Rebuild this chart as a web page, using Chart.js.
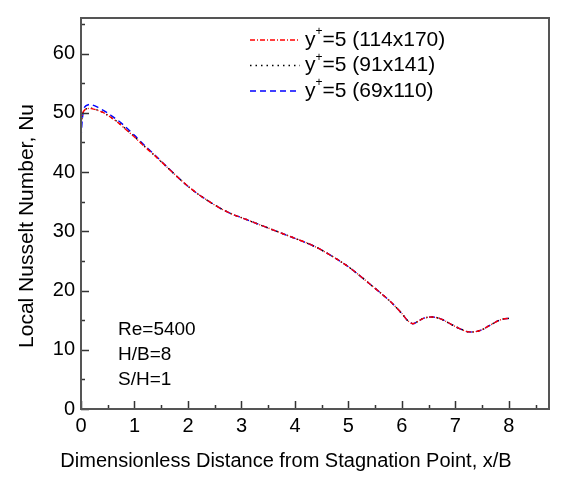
<!DOCTYPE html>
<html lang="en">
  <head>
    <meta charset="UTF-8" />
    <title>Local Nusselt Number</title>
    <script src="https://cdn.jsdelivr.net/npm/chart.js"></script>
    <style>
      body { margin: 0; background: #fff; }
      #box { width: 572px; height: 489px; }
    </style>
  </head>
  <body>
    <div id="box"><canvas id="myCanvas" width="572" height="489"></canvas></div>
    <script>
      // posicoes x/B (comum as tres malhas)
      const xB = [0, 0.03, 0.07, 0.15, 0.2, 0.3, 0.4, 0.5, 0.6, 0.7, 0.8, 0.9, 1.0,
        1.2, 1.4, 1.6, 1.8, 2.0, 2.2, 2.4, 2.6, 2.8, 3.0, 3.2, 3.4, 3.6, 3.8, 4.0,
        4.2, 4.4, 4.6, 4.8, 5.0, 5.2, 5.4, 5.6, 5.8, 6.0, 6.1, 6.2, 6.3, 6.4, 6.5,
        6.6, 6.7, 6.8, 6.9, 7.0, 7.1, 7.2, 7.3, 7.4, 7.5, 7.6, 7.7, 7.8, 7.9, 8.0];

      // Nu local - malha 114x170
      const nu114 = [48.3, 49.9, 50.5, 50.75, 50.7, 50.45, 50.1, 49.6, 48.95, 48.3, 47.5, 46.7, 45.9,
        44.2, 42.6, 40.9, 39.2, 37.6, 36.2, 35.0, 33.9, 33.0, 32.3, 31.6, 30.9, 30.2, 29.5, 28.8,
        28.1, 27.3, 26.3, 25.2, 24.0, 22.6, 21.1, 19.6, 18.0, 16.1, 15.0, 14.4, 14.8, 15.3, 15.5,
        15.5, 15.3, 14.9, 14.4, 13.9, 13.5, 13.1, 13.0, 13.1, 13.4, 13.9, 14.4, 14.9, 15.2, 15.3];

      // Nu local - malha 91x141
      const nu91 = [48.0, 49.7, 50.5, 50.8, 50.75, 50.5, 50.1, 49.6, 49.0, 48.35, 47.55, 46.75, 45.95,
        44.25, 42.6, 40.9, 39.2, 37.6, 36.2, 35.0, 33.9, 33.0, 32.3, 31.6, 30.9, 30.2, 29.5, 28.8,
        28.1, 27.3, 26.3, 25.2, 24.0, 22.6, 21.1, 19.6, 18.0, 16.1, 15.0, 14.4, 14.8, 15.3, 15.5,
        15.5, 15.3, 14.9, 14.4, 13.9, 13.5, 13.1, 13.0, 13.1, 13.4, 13.9, 14.4, 14.9, 15.2, 15.3];

      // Nu local - malha 69x110
      const nu69 = [45.8, 49.3, 51.0, 51.4, 51.35, 51.0, 50.5, 49.95, 49.3, 48.65, 47.9, 47.05, 46.2,
        44.4, 42.7, 40.95, 39.2, 37.6, 36.2, 35.0, 33.9, 33.0, 32.3, 31.6, 30.9, 30.2, 29.5, 28.8,
        28.1, 27.3, 26.3, 25.2, 24.0, 22.6, 21.1, 19.6, 18.0, 16.1, 15.0, 14.4, 14.8, 15.3, 15.5,
        15.5, 15.3, 14.9, 14.4, 13.9, 13.5, 13.1, 13.0, 13.1, 13.4, 13.9, 14.4, 14.9, 15.2, 15.3];

      const nomesSeries = ["y+=5 (114x170)", "y+=5 (91x141)", "y+=5 (69x110)"];
      const xTicks = [0, 1, 2, 3, 4, 5, 6, 7, 8];
      const xMinor = [0.5, 1.5, 2.5, 3.5, 4.5, 5.5, 6.5, 7.5, 8.5];
      const yTicks = [0, 10, 20, 30, 40, 50, 60];
      const yMinor = [5, 15, 25, 35, 45, 55, 65];
      const anotacoes = ["Re=5400", "H/B=8", "S/H=1"];
      const tituloX = "Dimensionless Distance from Stagnation Point, x/B";
      const tituloY = "Local Nusselt Number, Nu";

      const fonte = "'Liberation Sans', Arial, sans-serif";

      function pontos(ys) {
        return xB.map((x, i) => ({ x: x, y: ys[i] }));
      }

      // desenha moldura, ticks para dentro, legenda, anotacoes e titulos
      const moldura = {
        id: "moldura",
        afterDatasetsDraw(chart) {
          const ctx = chart.ctx;
          const a = chart.chartArea;
          const sx = chart.scales.x;
          const sy = chart.scales.y;
          ctx.save();

          ctx.strokeStyle = "#333";
          ctx.lineWidth = 1.5;
          ctx.beginPath();
          xTicks.forEach((v) => {
            const p = Math.round(sx.getPixelForValue(v)) + 0.5;
            ctx.moveTo(p, a.bottom); ctx.lineTo(p, a.bottom - 8);
          });
          xMinor.forEach((v) => {
            const p = Math.round(sx.getPixelForValue(v)) + 0.5;
            ctx.moveTo(p, a.bottom); ctx.lineTo(p, a.bottom - 4);
          });
          yTicks.forEach((v) => {
            const p = Math.round(sy.getPixelForValue(v)) + 0.5;
            ctx.moveTo(a.left, p); ctx.lineTo(a.left + 8, p);
          });
          yMinor.forEach((v) => {
            const p = Math.round(sy.getPixelForValue(v)) + 0.5;
            ctx.moveTo(a.left, p); ctx.lineTo(a.left + 4, p);
          });
          ctx.stroke();

          ctx.strokeStyle = "#555";
          ctx.lineWidth = 2;
          ctx.strokeRect(a.left, a.top, a.right - a.left, a.bottom - a.top);

          // legenda
          ctx.fillStyle = "#000";
          ctx.textBaseline = "middle";
          chart.data.datasets.forEach((ds, i) => {
            const yy = 40 + i * 25.5;
            ctx.strokeStyle = ds.borderColor;
            ctx.lineWidth = 1.3;
            ctx.setLineDash(ds.borderDash);
            ctx.beginPath();
            ctx.moveTo(250, yy);
            ctx.lineTo(300, yy);
            ctx.stroke();
            ctx.setLineDash([]);

            const partes = ds.label.split("+");
            let xx = 305;
            ctx.font = "21px " + fonte;
            ctx.fillText(partes[0], xx, yy);
            xx += ctx.measureText(partes[0]).width;
            ctx.font = "12px " + fonte;
            ctx.fillText("+", xx, yy - 8);
            xx += ctx.measureText("+").width;
            ctx.font = "21px " + fonte;
            ctx.fillText(partes[1], xx, yy);
          });

          // anotacoes
          ctx.font = "19px " + fonte;
          anotacoes.forEach((t, i) => {
            ctx.fillText(t, 118, 330 + i * 25);
          });

          // titulo do eixo x, centrado na figura
          ctx.font = "20px " + fonte;
          ctx.textAlign = "center";
          ctx.fillText(tituloX, chart.width / 2, 461);

          // titulo do eixo y
          ctx.font = "21px " + fonte;
          ctx.translate(27, 226);
          ctx.rotate(-Math.PI / 2);
          ctx.fillText(tituloY, 0, 0);
          ctx.restore();
        },
      };

      const config = {
        type: "line",
        data: {
          datasets: [
            {
              label: nomesSeries[0],
              data: pontos(nu114),
              borderColor: "#ff0000",
              borderWidth: 1.4,
              borderDash: [5, 2, 1, 2],
              pointRadius: 0,
              tension: 0.3,
            },
            {
              label: nomesSeries[1],
              data: pontos(nu91),
              borderColor: "#000000",
              borderWidth: 1.4,
              borderDash: [1.5, 4],
              pointRadius: 0,
              tension: 0.3,
            },
            {
              label: nomesSeries[2],
              data: pontos(nu69),
              borderColor: "#0000ff",
              borderWidth: 1.4,
              borderDash: [6, 4],
              pointRadius: 0,
              tension: 0.3,
            },
          ],
        },
        options: {
          responsive: false,
          animation: false,
          devicePixelRatio: 1,
          layout: { padding: { top: 8, right: 23, left: 0, bottom: 0 } },
          plugins: {
            legend: { display: false },
            tooltip: { enabled: false },
          },
          scales: {
            x: {
              type: "linear",
              min: 0,
              max: 8.75,
              afterBuildTicks: (s) => { s.ticks = xTicks.map((v) => ({ value: v })); },
              afterFit: (s) => { s.height = 80; },
              grid: { display: false, drawTicks: false },
              border: { display: false },
              ticks: { color: "#000", padding: 5, maxRotation: 0, font: { family: fonte, size: 20 } },
            },
            y: {
              type: "linear",
              min: 0,
              max: 66,
              afterBuildTicks: (s) => { s.ticks = yTicks.map((v) => ({ value: v })); },
              afterFit: (s) => { s.width = 81; },
              grid: { display: false, drawTicks: false },
              border: { display: false },
              ticks: { color: "#000", padding: 6, font: { family: fonte, size: 20 } },
            },
          },
        },
        plugins: [moldura],
      };

      new Chart(document.getElementById("myCanvas"), config);
    </script>
  </body>
</html>
